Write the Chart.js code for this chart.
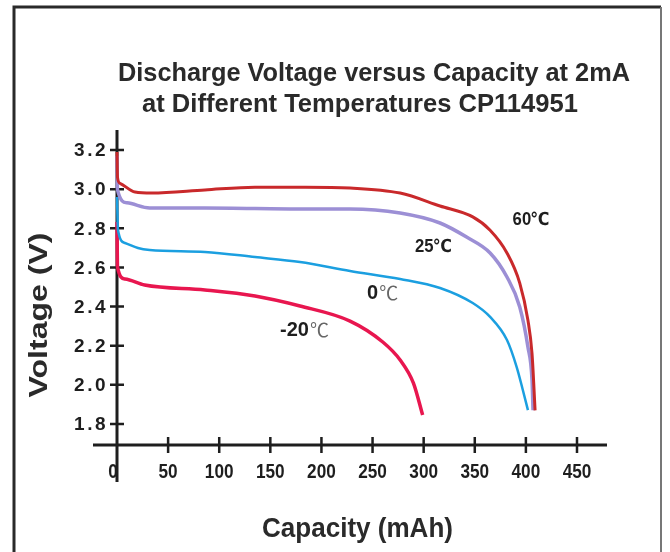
<!DOCTYPE html>
<html>
<head>
<meta charset="utf-8">
<title>Discharge Voltage versus Capacity</title>
<script src="https://cdn.jsdelivr.net/npm/chart.js@4"></script>
<style>
  html, body { margin: 0; padding: 0; background: #fff; overflow: hidden; }
  canvas { display: block; }
</style>
</head>
<body>
<canvas id="dischargeChart" width="670" height="552"></canvas>
<script>
// capacity (mAh) / voltage (V)
const cap60 = [0, 0.5, 2.9, 17.6, 34, 86, 135, 184, 228, 277, 316, 348, 365, 381.5, 394, 402, 406, 409];
const volt60 = [3.19, 3.06, 3.03, 2.985, 2.98, 2.996, 3.01, 3.01, 3.006, 2.98, 2.914, 2.858, 2.79, 2.674, 2.52, 2.33, 2.16, 1.87];

const cap25 = [0, 0.5, 9.8, 32, 86, 184, 228, 277, 316, 342, 365, 381.5, 394, 402, 406, 407];
const volt25 = [3.17, 2.996, 2.93, 2.904, 2.904, 2.899, 2.899, 2.878, 2.827, 2.755, 2.674, 2.551, 2.398, 2.193, 2.025, 1.87];

const cap0 = [0, 1, 7.8, 20.5, 32, 86, 135, 179, 228, 277, 316, 348, 365, 381.5, 391, 397, 402];
const volt0 = [2.96, 2.79, 2.725, 2.699, 2.689, 2.679, 2.653, 2.628, 2.582, 2.541, 2.495, 2.418, 2.347, 2.229, 2.091, 1.974, 1.871];

const capM20 = [0, 0.5, 7.8, 27, 86, 135, 179, 228, 260, 277, 290, 299];
const voltM20 = [2.832, 2.602, 2.541, 2.51, 2.485, 2.454, 2.403, 2.326, 2.219, 2.127, 2.009, 1.846];

const capacityTicks = [0, 50, 100, 150, 200, 250, 300, 350, 400, 450];
const voltageTicks = [1.8, 2.0, 2.2, 2.4, 2.6, 2.8, 3.0, 3.2];
const voltageTickLabels = ['1.8', '2.0', '2.2', '2.4', '2.6', '2.8', '3.0', '3.2'];

// curve labels: [number part, unit, capacity, voltage]
const curveLabels = [
    ['60', '℃', 387, 2.842],
    ['25', '℃', 291.5, 2.704],
    ['0', '℃', 244.6, 2.469],
    ['-20', '℃', 159.5, 2.28]
];

const titleLines = ['Discharge Voltage versus Capacity at 2mA', 'at Different Temperatures CP114951'];

const INK = '#1e1e1e';
const FONT = '"Liberation Sans", Arial, sans-serif';

function toPoints(xs, ys) {
    return xs.map((x, i) => ({ x: x, y: ys[i] }));
}

function fitText(ctx, str, left, baseline, font, width, color) {
    ctx.save();
    ctx.font = font;
    ctx.fillStyle = color;
    ctx.textAlign = 'left';
    ctx.textBaseline = 'alphabetic';
    const sx = width / ctx.measureText(str).width;
    ctx.translate(left, baseline);
    ctx.scale(sx, 1);
    ctx.fillText(str, 0, 0);
    ctx.restore();
}

const framePlugin = {
    id: 'frame',
    beforeDraw(chart) {
        const ctx = chart.ctx;
        ctx.save();
        ctx.fillStyle = '#fff';
        ctx.fillRect(0, 0, chart.width, chart.height);
        ctx.strokeStyle = '#2a2a2a';
        ctx.lineWidth = 3;
        ctx.beginPath();
        ctx.moveTo(14, 560);
        ctx.lineTo(14, 7);
        ctx.lineTo(661, 7);
        ctx.stroke();
        ctx.strokeStyle = '#777';
        ctx.lineWidth = 2;
        ctx.beginPath();
        ctx.moveTo(661, 7);
        ctx.lineTo(661, 560);
        ctx.stroke();
        ctx.restore();
    }
};

// axes crossing at (0, bottom) with ticks that cross the axis lines
const axesPlugin = {
    id: 'crossAxes',
    beforeDatasetsDraw(chart) {
        const ctx = chart.ctx;
        const xs = chart.scales.x;
        const ys = chart.scales.y;
        const area = chart.chartArea;
        const x0 = xs.getPixelForValue(0);
        ctx.save();
        ctx.strokeStyle = INK;
        ctx.lineWidth = 3;
        ctx.beginPath();
        ctx.moveTo(area.left, area.bottom);
        ctx.lineTo(area.right, area.bottom);
        ctx.moveTo(x0, area.top);
        ctx.lineTo(x0, area.bottom + 37);
        ctx.stroke();

        ctx.lineWidth = 2.5;
        ctx.beginPath();
        capacityTicks.forEach(v => {
            if (v === 0) return;
            const px = xs.getPixelForValue(v);
            ctx.moveTo(px, area.bottom - 8);
            ctx.lineTo(px, area.bottom + 8);
        });
        voltageTicks.forEach(v => {
            const py = ys.getPixelForValue(v);
            ctx.moveTo(x0 - 7, py);
            ctx.lineTo(x0 + 7, py);
        });
        ctx.stroke();

        ctx.fillStyle = INK;
        ctx.textBaseline = 'middle';
        ctx.font = 'bold 20px ' + FONT;
        ctx.textAlign = 'center';
        capacityTicks.forEach(v => {
            const px = xs.getPixelForValue(v);
            ctx.save();
            ctx.translate(v === 0 ? px - 4 : px, area.bottom + 27);
            ctx.scale(0.86, 1);
            ctx.fillText(String(v), 0, 0);
            ctx.restore();
        });

        ctx.font = 'bold 19px ' + FONT;
        ctx.textAlign = 'right';
        ctx.letterSpacing = '2.5px';
        voltageTicks.forEach((v, i) => {
            const py = ys.getPixelForValue(v);
            ctx.fillText(voltageTickLabels[i], x0 - 9, py + 1);
        });
        ctx.letterSpacing = '0px';
        ctx.restore();
    },
    afterDatasetsDraw(chart) {
        const ctx = chart.ctx;
        const xs = chart.scales.x;
        const ys = chart.scales.y;

        fitText(ctx, titleLines[0], 118, 81, 'bold 26px ' + FONT, 512, '#2a2a2a');
        fitText(ctx, titleLines[1], 142, 112, 'bold 26px ' + FONT, 436, '#2a2a2a');

        fitText(ctx, 'Capacity (mAh)', 262, 537, 'bold 27px ' + FONT, 191, '#2a2a2a');

        ctx.save();
        ctx.translate(47, 315);
        ctx.rotate(-Math.PI / 2);
        ctx.font = 'bold 25px ' + FONT;
        const w = ctx.measureText('Voltage (V)').width;
        ctx.scale(165 / w, 1);
        ctx.fillStyle = '#2a2a2a';
        ctx.textAlign = 'center';
        ctx.textBaseline = 'alphabetic';
        ctx.fillText('Voltage (V)', 0, 0);
        ctx.restore();

        curveLabels.forEach((lab, i) => {
            const px = xs.getPixelForValue(lab[2]);
            const py = ys.getPixelForValue(lab[3]);
            ctx.save();
            ctx.textBaseline = 'middle';
            ctx.textAlign = 'left';
            ctx.fillStyle = INK;
            if (i < 2) {
                ctx.font = 'bold 19px ' + FONT;
                ctx.translate(px, py);
                ctx.scale(0.88, 1);
                ctx.fillText(lab[0], 0, 0);
                const nw = ctx.measureText(lab[0]).width;
                ctx.font = 'bold 18px "DejaVu Sans", sans-serif';
                ctx.fillText(lab[1], nw - 1, 0);
            } else {
                ctx.font = 'bold 20px ' + FONT;
                ctx.fillText(lab[0], px, py);
                const nw = ctx.measureText(lab[0]).width;
                ctx.font = '19px "Noto Sans CJK SC", sans-serif';
                ctx.fillStyle = '#666';
                ctx.fillText(lab[1], px + nw + 1, py);
            }
            ctx.restore();
        });
    }
};

const datasets = [
    { label: '60℃', data: toPoints(cap60, volt60), borderColor: '#c9292b', borderWidth: 3 },
    { label: '25℃', data: toPoints(cap25, volt25), borderColor: '#9c8fd5', borderWidth: 3.5 },
    { label: '0℃', data: toPoints(cap0, volt0), borderColor: '#1b9fe0', borderWidth: 2.5 },
    { label: '-20℃', data: toPoints(capM20, voltM20), borderColor: '#e8164f', borderWidth: 3.5 }
];
datasets.forEach(d => {
    d.pointRadius = 0;
    d.fill = false;
    d.cubicInterpolationMode = 'monotone';
});

new Chart(document.getElementById('dischargeChart').getContext('2d'), {
    type: 'line',
    data: { datasets: datasets },
    options: {
        responsive: false,
        animation: false,
        devicePixelRatio: 1,
        layout: { padding: { left: 93, right: 63, top: 130, bottom: 107 } },
        scales: {
            x: { type: 'linear', min: -23.48, max: 479.35, display: false },
            y: { type: 'linear', min: 1.6927, max: 3.3022, display: false }
        },
        plugins: {
            legend: { display: false },
            title: { display: false },
            tooltip: { enabled: false }
        }
    },
    plugins: [framePlugin, axesPlugin]
});
</script>
</body>
</html>
